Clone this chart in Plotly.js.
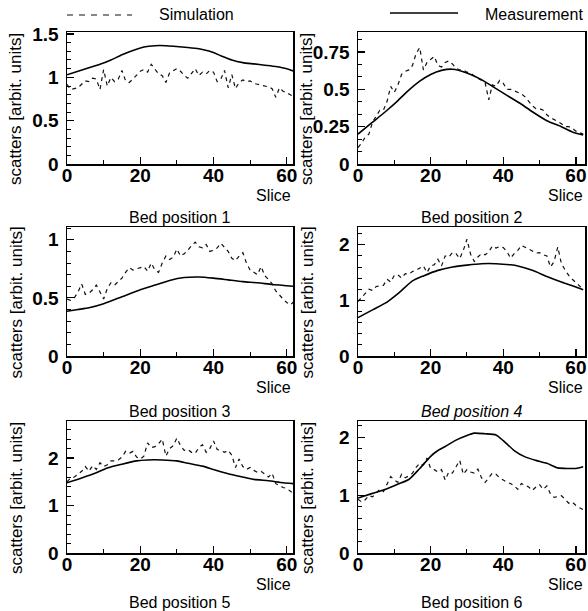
<!DOCTYPE html>
<html>
<head>
<meta charset="utf-8">
<script src="https://cdn.plot.ly/plotly-3.0.1.min.js"></script>
<style>html,body{margin:0;padding:0;background:#fff;}#chart{width:588px;height:611px;}</style>
</head>
<body>
<div id="chart"></div>
<script>
// ---------------- data ----------------
const sliceNo = [0,1,2,3,4,5,6,7,8,9,10,11,12,13,14,15,16,17,18,19,20,21,22,23,24,25,26,27,28,29,30,31,32,33,34,35,36,37,38,39,40,41,42,43,44,45,46,47,48,49,50,51,52,53,54,55,56,57,58,59,60,61,62];

const panelTitles = ["Bed position 1","Bed position 2","Bed position 3","<i>Bed position 4</i>","Bed position 5","Bed position 6"];
const seriesNames = ["Simulation","Measurement"];
const xTitle = "Slice";
const yTitle = "scatters [arbit. units]";

// Simulation (dashed), one value per slice
const sim1 = [0.92,0.86,0.87,0.88,0.92,0.96,0.95,0.99,0.98,0.86,1.09,0.90,1.00,0.95,0.98,1.08,0.96,0.94,0.98,1.03,1.07,1.09,1.06,1.15,1.10,1.04,1.02,0.94,1.05,1.08,1.10,1.07,1.02,0.99,1.04,1.10,1.02,1.06,1.04,1.08,1.06,0.95,0.98,1.08,0.88,1.03,0.87,0.94,0.97,0.95,0.96,0.93,0.92,0.91,0.90,0.89,0.87,0.77,0.88,0.84,0.82,0.80,0.76];
const sim2 = [0.11,0.14,0.18,0.20,0.28,0.32,0.36,0.36,0.42,0.52,0.48,0.53,0.60,0.62,0.63,0.66,0.74,0.78,0.63,0.68,0.70,0.72,0.66,0.65,0.68,0.69,0.67,0.64,0.63,0.63,0.615,0.61,0.59,0.575,0.565,0.545,0.43,0.53,0.52,0.56,0.54,0.50,0.50,0.49,0.485,0.47,0.45,0.42,0.39,0.37,0.37,0.36,0.33,0.31,0.30,0.285,0.27,0.25,0.25,0.24,0.22,0.21,0.20];
const sim3 = [0.49,0.48,0.50,0.55,0.62,0.53,0.54,0.57,0.61,0.55,0.49,0.58,0.63,0.61,0.64,0.67,0.72,0.76,0.74,0.75,0.76,0.77,0.73,0.80,0.74,0.72,0.80,0.86,0.83,0.85,0.92,0.86,0.88,0.91,0.95,0.98,0.94,0.93,0.96,0.90,0.91,0.93,0.97,0.93,0.90,0.84,0.82,0.86,0.89,0.80,0.74,0.72,0.70,0.77,0.69,0.66,0.62,0.56,0.52,0.49,0.46,0.44,0.47];
const sim4 = [0.98,1.06,1.14,1.20,1.18,1.25,1.26,1.27,1.38,1.33,1.45,1.46,1.40,1.48,1.47,1.52,1.54,1.58,1.62,1.50,1.62,1.64,1.74,1.62,1.80,1.78,1.86,1.84,1.75,1.90,2.10,1.83,1.70,1.78,1.84,1.82,1.87,1.98,1.94,1.97,1.95,1.88,1.76,1.84,1.90,1.99,1.96,1.92,1.89,1.85,1.86,1.82,1.80,1.60,1.70,1.96,1.66,1.55,1.45,1.38,1.32,1.26,1.20];
const sim5 = [1.50,1.58,1.60,1.66,1.72,1.82,1.72,1.84,1.76,1.90,1.82,1.86,1.94,1.94,1.96,2.02,2.14,2.10,2.14,2.02,1.98,2.04,2.32,2.22,2.24,2.30,2.40,2.04,2.20,2.26,2.42,2.26,2.16,2.18,2.12,2.10,2.22,2.28,2.12,2.20,2.36,2.18,2.16,2.12,2.16,2.06,1.80,1.98,1.82,1.76,1.80,1.74,1.70,1.72,1.66,1.60,1.68,1.46,1.42,1.38,1.36,1.30,1.24];
const sim6 = [0.93,0.88,0.92,0.99,0.97,1.04,1.10,1.06,1.18,1.32,1.26,1.22,1.36,1.30,1.33,1.38,1.48,1.55,1.52,1.64,1.46,1.44,1.40,1.44,1.26,1.40,1.38,1.48,1.60,1.36,1.44,1.40,1.38,1.45,1.30,1.22,1.30,1.38,1.36,1.30,1.26,1.22,1.20,1.16,1.10,1.20,1.17,1.14,1.08,1.14,1.18,1.10,1.16,1.02,0.96,0.97,0.99,0.93,0.86,0.88,0.82,0.78,0.75];

// Measurement (solid)
const measX1 = [0,3,6,9,12,15,18,21,24,27,30,33,36,39,42,45,48,51,54,57,60,62];
const meas1  = [1.03,1.07,1.11,1.15,1.20,1.26,1.31,1.35,1.365,1.365,1.355,1.345,1.33,1.30,1.25,1.20,1.17,1.155,1.14,1.125,1.10,1.07];
const measX2 = [0,4,8,11,14,17,20,23,26,30,34,37,41,45,48,52,56,59,62];
const meas2  = [0.20,0.28,0.36,0.425,0.495,0.555,0.60,0.627,0.635,0.61,0.565,0.52,0.46,0.40,0.35,0.29,0.25,0.215,0.195];
const measX3 = [0,3,6,10,15,20,24,28,32,36,40,44,48,52,56,60,62];
const meas3  = [0.385,0.40,0.415,0.45,0.51,0.57,0.61,0.65,0.675,0.68,0.67,0.655,0.64,0.63,0.615,0.605,0.60];
const measX4 = [0,4,8,11,15,18,22,26,30,34,38,42,44,48,52,56,60,62];
const meas4  = [0.69,0.83,0.97,1.12,1.35,1.44,1.54,1.60,1.635,1.66,1.66,1.64,1.62,1.54,1.43,1.33,1.24,1.19];
const measX5 = [0,4,8,11,15,19,22,26,30,33,37,40,44,48,51,55,59,62];
const meas5  = [1.48,1.58,1.69,1.79,1.87,1.94,1.96,1.96,1.94,1.89,1.83,1.76,1.67,1.60,1.55,1.52,1.48,1.46];
const measX6 = [0,4,8,11,14,17,20,22,24,27,30,32,35,38,40,43,46,49,52,55,58,60,62];
const meas6  = [0.95,1.03,1.11,1.19,1.27,1.46,1.67,1.77,1.84,1.95,2.03,2.07,2.06,2.04,1.94,1.77,1.66,1.60,1.55,1.47,1.46,1.46,1.49];

const simSets  = [sim1,sim2,sim3,sim4,sim5,sim6];
const measXs   = [measX1,measX2,measX3,measX4,measX5,measX6];
const measSets = [meas1,meas2,meas3,meas4,meas5,meas6];

// axis settings
const yMaxes  = [1.523,0.884,1.11,2.32,2.78,2.28];
const yDticks = [0.5,0.25,0.5,1,1,1];
const yMinor  = [0.1,0.25/3,0.1,0.2,0.2,0.2];

// ---------------- layout helpers ----------------
const W = 588, H = 611;
const colPx = [[67,293],[358,585]];
const rowPx = [[32,164],[227,356],[421,553]];
const captionShift = [-53,-55,-49];
const xMaxes = [61.7,62.5];
const FONT = '"Liberation Sans", Arial, Helvetica, sans-serif';

const traces = [];
const layout = {
  width: W, height: H,
  margin: {l:0,r:0,t:0,b:0},
  paper_bgcolor: '#fff', plot_bgcolor: '#fff',
  showlegend: false,
  font: {family: FONT, color: '#000'},
  annotations: [], shapes: []
};

for (let i = 0; i < 6; i++) {
  const c = i % 2, r = Math.floor(i / 2);
  const sfx = i === 0 ? '' : String(i + 1);
  const xa = 'x' + sfx, ya = 'y' + sfx;
  traces.push({
    x: sliceNo, y: simSets[i], xaxis: xa, yaxis: ya, type: 'scatter', mode: 'lines',
    name: seriesNames[0], line: {color: '#111', width: 1.2, dash: '4px,4px'}
  });
  traces.push({
    x: measXs[i], y: measSets[i], xaxis: xa, yaxis: ya, type: 'scatter', mode: 'lines',
    name: seriesNames[1], line: {color: '#000', width: 1.6, shape: 'spline', smoothing: 0.6}
  });
  const xd = [colPx[c][0] / W, colPx[c][1] / W];
  const yd = [1 - rowPx[r][1] / H, 1 - rowPx[r][0] / H];
  layout['xaxis' + sfx] = {
    domain: xd, anchor: ya, range: [0, xMaxes[c]], tick0: 0, dtick: 20,
    ticks: 'inside', ticklen: 7, tickwidth: 1.2, tickcolor: '#000',
    minor: {dtick: 10, ticks: 'inside', ticklen: 4, tickwidth: 1, tickcolor: '#000'},
    showline: true, linecolor: '#000', linewidth: 1.5, mirror: true,
    showgrid: false, zeroline: false, ticklabelstandoff: -6,
    tickfont: {family: FONT, size: 19, weight: 'bold', color: '#000'}
  };
  layout['yaxis' + sfx] = {
    domain: yd, anchor: xa, range: [0, yMaxes[i]], tick0: 0, dtick: yDticks[i],
    ticks: 'inside', ticklen: 7, tickwidth: 1.2, tickcolor: '#000',
    minor: {dtick: yMinor[i], ticks: 'inside', ticklen: 4, tickwidth: 1, tickcolor: '#000'},
    showline: true, linecolor: '#000', linewidth: 1.5, mirror: true,
    showgrid: false, zeroline: false, ticklabelstandoff: 3,
    tickfont: {family: FONT, size: 19, weight: 'bold', color: '#000'}
  };
  // x title "Slice" at right, below tick labels
  layout.annotations.push({
    text: xTitle, xref: xa + ' domain', yref: ya + ' domain', x: 1, y: 0,
    xanchor: 'right', yanchor: 'middle', yshift: -31, showarrow: false,
    font: {family: FONT, size: 16, color: '#000'}
  });
  // y title
  layout.annotations.push({
    text: yTitle, xref: xa + ' domain', yref: ya + ' domain', x: 0, y: 0.5,
    xanchor: 'center', yanchor: 'middle', xshift: -51, yshift: -11, textangle: -90,
    showarrow: false, font: {family: FONT, size: 17, color: '#000'}
  });
  // panel caption
  layout.annotations.push({
    text: panelTitles[i], xref: xa + ' domain', yref: ya + ' domain', x: 0.5, y: 0,
    xanchor: 'center', yanchor: 'middle', yshift: captionShift[r], showarrow: false,
    font: {family: FONT, size: 16, color: '#000'}
  });
}

// legend (drawn as decoration at the top)
layout.shapes.push({type: 'line', xref: 'paper', yref: 'paper',
  x0: 67 / W, x1: 132 / W, y0: 1 - 15 / H, y1: 1 - 15 / H,
  line: {color: '#111', width: 1.2, dash: '6px,6px'}});
layout.shapes.push({type: 'line', xref: 'paper', yref: 'paper',
  x0: 390 / W, x1: 458 / W, y0: 1 - 13 / H, y1: 1 - 13 / H,
  line: {color: '#000', width: 1.5}});
layout.annotations.push({text: seriesNames[0], xref: 'paper', yref: 'paper',
  x: 157 / W, y: 1 - 15 / H, xanchor: 'left', yanchor: 'middle', showarrow: false,
  font: {family: FONT, size: 16, color: '#000'}});
layout.annotations.push({text: seriesNames[1], xref: 'paper', yref: 'paper',
  x: 483 / W, y: 1 - 14 / H, xanchor: 'left', yanchor: 'middle', showarrow: false,
  font: {family: FONT, size: 16, color: '#000'}});

Plotly.newPlot('chart', traces, layout, {staticPlot: true, displayModeBar: false});
</script>
</body>
</html>
